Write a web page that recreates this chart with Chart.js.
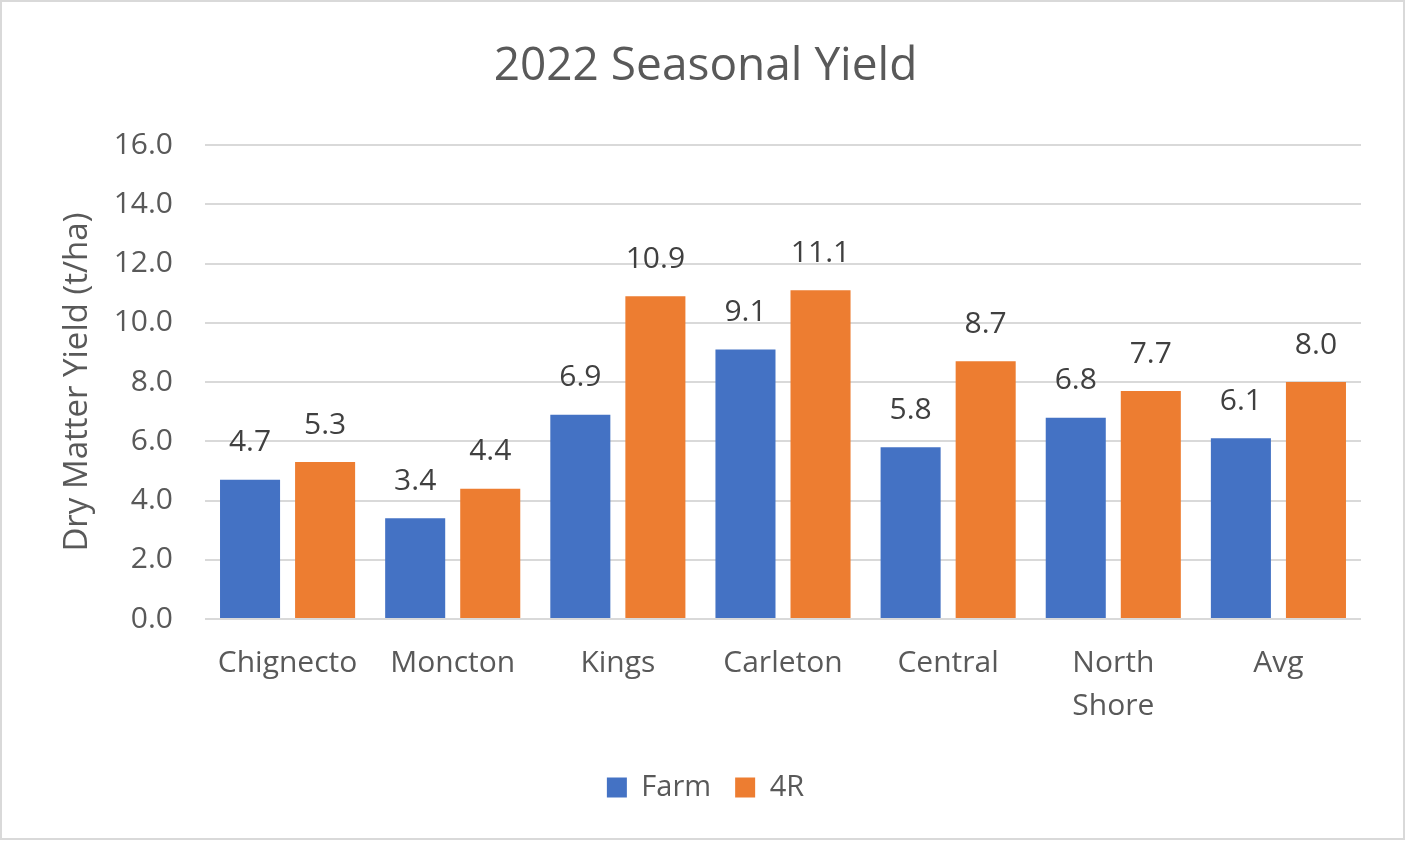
<!DOCTYPE html>
<html>
<head>
<meta charset="utf-8">
<script src="https://cdn.jsdelivr.net/npm/chart.js@4"></script>
<style>
  body { margin: 0; background: #fff; }
  #wrap { width: 1405px; height: 841px; }
</style>
</head>
<body>
<div id="wrap"><canvas id="yieldChart" width="1405" height="841"></canvas></div>
<script>
// chart data
const regions = ['Chignecto', 'Moncton', 'Kings', 'Carleton', 'Central', ['North', 'Shore'], 'Avg'];
const farmYield = [4.7, 3.4, 6.9, 9.1, 5.8, 6.8, 6.1];
const fourRYield = [5.3, 4.4, 10.9, 11.1, 8.7, 7.7, 8.0];
const yTicks = [0, 2, 4, 6, 8, 10, 12, 14, 16];

const FONT = '"Open Sans", "Noto Sans", sans-serif';
const GREY = '#595959';

// white background + thin frame around the chart
const framePlugin = {
    id: 'frame',
    beforeDraw(chart) {
        const ctx = chart.ctx;
        ctx.save();
        ctx.fillStyle = '#fff';
        ctx.fillRect(0, 0, chart.width, chart.height);
        ctx.strokeStyle = '#d9d9d9';
        ctx.lineWidth = 2;
        ctx.strokeRect(1, 1, chart.width - 2, chart.height - 3);
        ctx.restore();
    }
};

// value labels above each bar
const valueLabels = {
    id: 'valueLabels',
    afterDatasetsDraw(chart) {
        const ctx = chart.ctx;
        ctx.save();
        ctx.font = '30px ' + FONT;
        ctx.fillStyle = '#404040';
        ctx.textAlign = 'center';
        ctx.textBaseline = 'middle';
        chart.data.datasets.forEach((ds, i) => {
            chart.getDatasetMeta(i).data.forEach((bar, j) => {
                ctx.fillText(ds.data[j].toFixed(1), bar.x, bar.y - 37);
            });
        });
        ctx.restore();
    }
};

const chart = new Chart(document.getElementById('yieldChart').getContext('2d'), {
    type: 'bar',
    data: {
        labels: regions,
        datasets: [{
            label: 'Farm',
            data: farmYield,
            backgroundColor: '#4472C4',
            categoryPercentage: 0.909,
            barPercentage: 0.8
        }, {
            label: '4R',
            data: fourRYield,
            backgroundColor: '#ED7D31',
            categoryPercentage: 0.909,
            barPercentage: 0.8
        }]
    },
    options: {
        responsive: false,
        animation: false,
        layout: { padding: { top: 20, left: 50, right: 44, bottom: 29 } },
        plugins: {
            title: {
                display: true,
                text: '2022 Seasonal Yield',
                color: GREY,
                font: { family: FONT, size: 46, weight: 'normal' },
                padding: { top: 19, bottom: 51 }
            },
            legend: {
                position: 'bottom',
                labels: {
                    color: GREY,
                    font: { family: FONT, size: 29 },
                    boxWidth: 20,
                    boxHeight: 20,
                    padding: 24
                }
            },
            tooltip: { enabled: false }
        },
        scales: {
            x: {
                grid: { display: false },
                border: { display: false },
                ticks: {
                    color: GREY,
                    padding: 15,
                    maxRotation: 0,
                    font: { family: FONT, size: 30, lineHeight: 1.43 }
                },
                afterFit(scale) { scale.height = 130; }
            },
            y: {
                min: 0,
                max: 16,
                afterBuildTicks(scale) { scale.ticks = yTicks.map(v => ({ value: v })); },
                grid: { color: '#d9d9d9', lineWidth: 2, drawTicks: false },
                border: { display: false },
                ticks: {
                    color: GREY,
                    padding: 32,
                    font: { family: FONT, size: 30 },
                    callback: v => v.toFixed(1)
                },
                title: {
                    display: true,
                    text: 'Dry Matter Yield (t/ha)',
                    color: GREY,
                    font: { family: FONT, size: 33 },
                    padding: { top: 8, bottom: 0 }
                },
                afterFit(scale) { scale.width = 155; }
            }
        }
    },
    plugins: [framePlugin, valueLabels]
});
</script>
</body>
</html>
